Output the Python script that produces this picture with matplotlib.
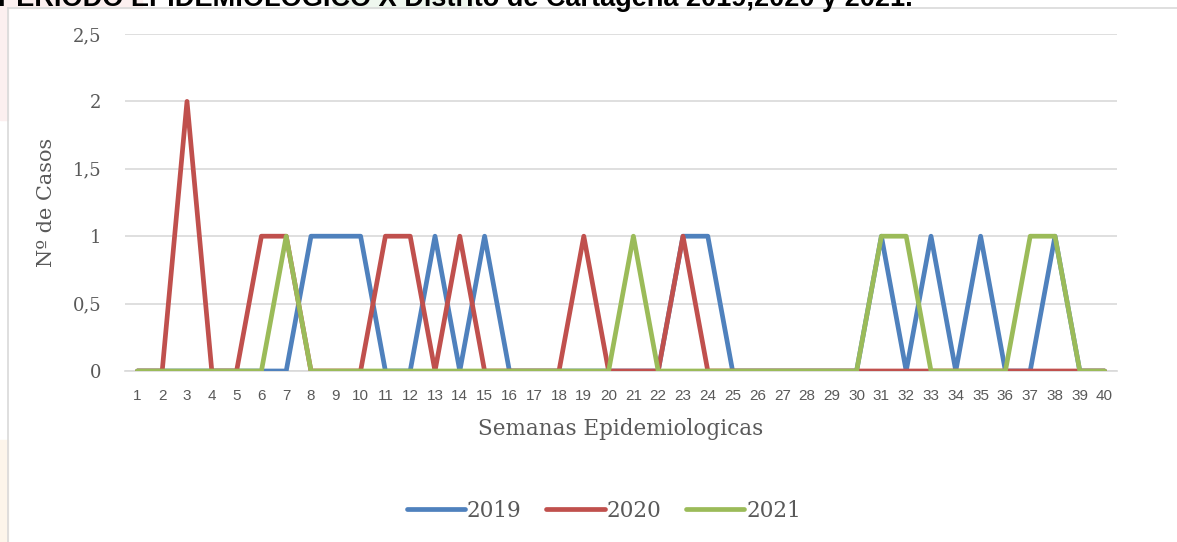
import matplotlib.pyplot as plt
import matplotlib.patches as patches

WEEKS = list(range(1, 41))
CASES_2019 = [0, 0, 0, 0, 0, 0, 0, 1, 1, 1,
              0, 0, 1, 0, 1, 0, 0, 0, 0, 0,
              0, 0, 1, 1, 0, 0, 0, 0, 0, 0,
              1, 0, 1, 0, 1, 0, 0, 1, 0, 0]
CASES_2020 = [0, 0, 2, 0, 0, 1, 1, 0, 0, 0,
              1, 1, 0, 1, 0, 0, 0, 0, 1, 0,
              0, 0, 1, 0, 0, 0, 0, 0, 0, 0,
              0, 0, 0, 0, 0, 0, 0, 0, 0, 0]
CASES_2021 = [0, 0, 0, 0, 0, 0, 1, 0, 0, 0,
              0, 0, 0, 0, 0, 0, 0, 0, 0, 0,
              1, 0, 0, 0, 0, 0, 0, 0, 0, 0,
              1, 1, 0, 0, 0, 0, 1, 1, 0, 0]
YTICKS = [0, 0.5, 1, 1.5, 2, 2.5]
YTICK_LABELS = ["0", "0,5", "1", "1,5", "2", "2,5"]

SERIF = "DejaVu Serif"
GREY = "#595959"
W, H = 1177, 542

fig = plt.figure(figsize=(W / 100, H / 100), dpi=100)


def page_patch(x0, y0, x1, y1, color):
    # rectangle in pixel coords from the top-left corner
    fig.patches.append(patches.Rectangle((x0 / W, 1 - y1 / H), (x1 - x0) / W, (y1 - y0) / H,
                                         transform=fig.transFigure, color=color, zorder=0))


# faint page colours around the chart frame
page_patch(0, 0, 8, 120, "#fcefef")
page_patch(0, 0, 142, 8, "#fcefef")
page_patch(333, 0, 473, 8, "#eef7ee")
page_patch(0, 440, 8, H, "#fdf5ea")

# chart frame
fig.add_artist(plt.Line2D([8 / W, 8 / W], [0, 1 - 8 / H], transform=fig.transFigure,
                          color="#d9d9d9", lw=1.2))
fig.add_artist(plt.Line2D([8 / W, 1], [1 - 8 / H, 1 - 8 / H], transform=fig.transFigure,
                          color="#d9d9d9", lw=1.2))

# title cut off at the top of the picture
fig.text(-0.002, 1 - 6 / H, "PERIODO EPIDEMIOLOGICO X Distrito de Cartagena 2019,2020 y 2021.",
         fontsize=19.5, fontweight="bold", family="Liberation Sans", color="black",
         ha="left", va="baseline")

ax = fig.add_axes([125 / W, 1 - 371 / H, 992 / W, 337 / H])

lw = 3.4
ax.plot(WEEKS, CASES_2019, color="#4F81BD", lw=lw, label="2019", solid_capstyle="round",
        solid_joinstyle="round", zorder=3)
ax.plot(WEEKS, CASES_2020, color="#C0504D", lw=lw, label="2020", solid_capstyle="round",
        solid_joinstyle="round", zorder=4)
ax.plot(WEEKS, CASES_2021, color="#9BBB59", lw=lw, label="2021", solid_capstyle="round",
        solid_joinstyle="round", zorder=5)

ax.set_xlim(0.5, 40.5)
ax.set_ylim(0, 2.5)
ax.set_yticks(YTICKS)
ax.set_yticklabels(YTICK_LABELS, family=SERIF, fontsize=13, color=GREY)
ax.set_xticks(WEEKS)
ax.set_xticklabels([str(w) for w in WEEKS], family="Liberation Sans", fontsize=11, color=GREY)
ax.tick_params(axis="y", length=0, pad=17)
ax.tick_params(axis="x", length=0, pad=13)

ax.grid(axis="y", color="#d9d9d9", lw=1.2)
ax.set_axisbelow(True)
for s in ["top", "right", "left"]:
    ax.spines[s].set_visible(False)
ax.spines["bottom"].set_color("#d9d9d9")
ax.spines["bottom"].set_linewidth(1.2)
ax.spines["bottom"].set_zorder(1)

ax.set_ylabel("Nº de Casos", family=SERIF, fontsize=15, color=GREY, labelpad=12)
ax.set_xlabel("Semanas Epidemiologicas", family=SERIF, fontsize=15.5, color=GREY, labelpad=11)

leg = fig.legend(loc="center", bbox_to_anchor=(604 / W, 1 - 511 / H), ncol=3,
                 frameon=False, prop={"family": SERIF, "size": 15.5}, handlelength=2.7,
                 handletextpad=0.1, columnspacing=1.15)
for t in leg.get_texts():
    t.set_color(GREY)
for h in leg.get_lines():
    h.set_linewidth(3.4)
    h.set_solid_capstyle("round")

fig.savefig("out.png", dpi=100)
